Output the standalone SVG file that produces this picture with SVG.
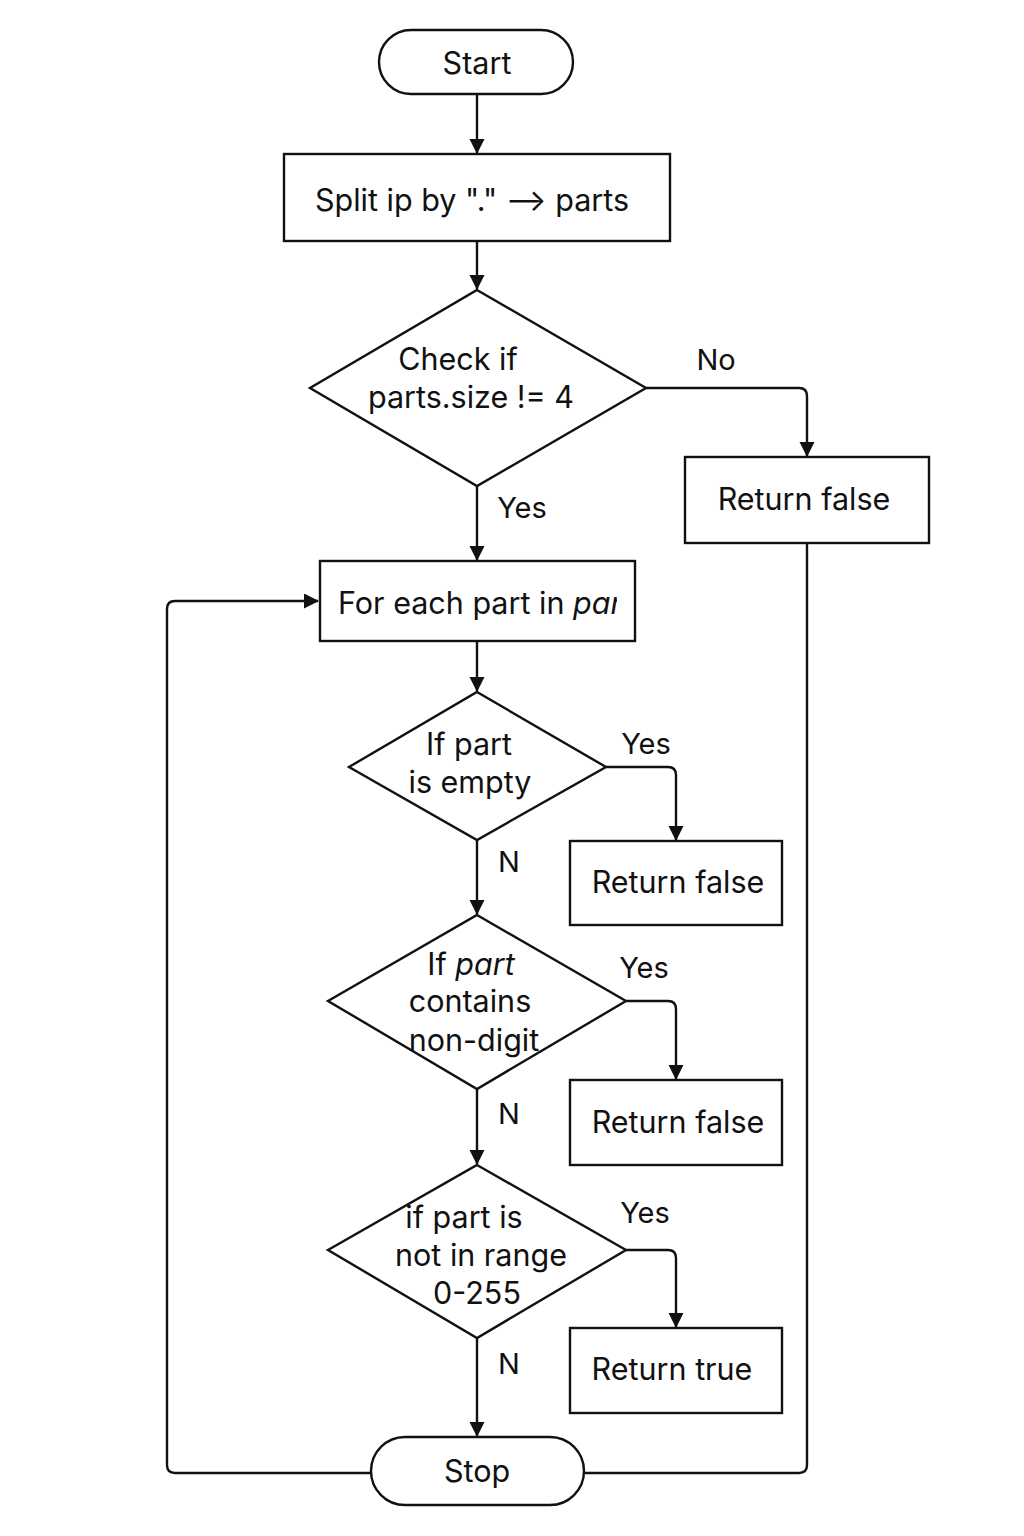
<svg xmlns="http://www.w3.org/2000/svg" width="1024" height="1536" viewBox="0 0 1024 1536">
<defs>
<marker id="ah" markerWidth="16" markerHeight="16" refX="14" refY="7.5" orient="auto" markerUnits="userSpaceOnUse">
<path d="M0,0 L15,7.5 L0,15 Z" fill="#111"/>
</marker>
<clipPath id="clipFor"><rect x="320" y="561" width="297" height="80"/></clipPath>
</defs>
<style>
.box{fill:#fff;stroke:#111;stroke-width:2.4}
.ln{fill:none;stroke:#111;stroke-width:2.4}
.ar{fill:none;stroke:#111;stroke-width:2.4;marker-end:url(#ah)}
text{font-family:Inter,"Liberation Sans",sans-serif;font-size:30.5px;fill:#111;text-anchor:middle}
.lbl{font-size:29px}
</style>
<rect width="1024" height="1536" fill="#fff"/>
<g id="connectors">
<path class="ar" d="M477,94 V153"/>
<path class="ar" d="M477,241 V289"/>
<path class="ar" d="M646,388 H799 Q807,388 807,396 V456"/>
<path class="ln" d="M807,543 V1465 Q807,1473 799,1473 H584"/>
<path class="ar" d="M477,486 V560"/>
<path class="ar" d="M371,1473 H175 Q167,1473 167,1465 V609 Q167,601 175,601 H318"/>
<path class="ar" d="M477,641 V691"/>
<path class="ar" d="M606,767 H668 Q676,767 676,775 V840"/>
<path class="ar" d="M477,840 V914"/>
<path class="ar" d="M626,1001 H668 Q676,1001 676,1009 V1079"/>
<path class="ar" d="M477,1089 V1164"/>
<path class="ar" d="M626,1250 H668 Q676,1250 676,1258 V1327"/>
<path class="ar" d="M477,1338 V1436"/>
<text class="lbl" x="716" y="370">No</text>
<text class="lbl" x="522" y="518">Yes</text>
<text class="lbl" x="646" y="754">Yes</text>
<text class="lbl" x="509" y="872">N</text>
<text class="lbl" x="644" y="978">Yes</text>
<text class="lbl" x="509" y="1124">N</text>
<text class="lbl" x="645" y="1223">Yes</text>
<text class="lbl" x="509" y="1374">N</text>
</g>
<g id="start">
<rect class="box" x="379" y="30" width="194" height="64" rx="32"/>
<text x="477" y="74">Start</text>
</g>
<g id="split">
<rect class="box" x="284" y="154" width="386" height="87"/>
<text x="472" y="211">Split ip by "." ⟶ parts</text>
</g>
<g id="check-size">
<polygon class="box" points="477,290 646,388 477,486 310,388"/>
<text x="458" y="370">Check if</text>
<text x="471" y="408">parts.size != 4</text>
</g>
<g id="return-false-1">
<rect class="box" x="685" y="457" width="244" height="86"/>
<text x="804" y="510">Return false</text>
</g>
<g id="for-each">
<rect class="box" x="320" y="561" width="315" height="80"/>
<text x="338" y="614" style="text-anchor:start" clip-path="url(#clipFor)">For each part in <tspan font-style="italic">par</tspan></text>
</g>
<g id="if-empty">
<polygon class="box" points="477,692 606,767 477,840 349,767"/>
<text x="469" y="755">If part</text>
<text x="470" y="793">is empty</text>
</g>
<g id="return-false-2">
<rect class="box" x="570" y="841" width="212" height="84"/>
<text x="678" y="893">Return false</text>
</g>
<g id="if-nondigit">
<polygon class="box" points="477,915 626,1001 477,1089 328,1001"/>
<text x="471" y="975">If <tspan font-style="italic">part</tspan></text>
<text x="470" y="1012">contains</text>
<text x="474" y="1051">non-digit</text>
</g>
<g id="return-false-3">
<rect class="box" x="570" y="1080" width="212" height="85"/>
<text x="678" y="1133">Return false</text>
</g>
<g id="if-range">
<polygon class="box" points="477,1165 626,1250 477,1338 328,1250"/>
<text x="464" y="1228">if part is</text>
<text x="481" y="1266">not in range</text>
<text x="477" y="1304">0-255</text>
</g>
<g id="return-true">
<rect class="box" x="570" y="1328" width="212" height="85"/>
<text x="672" y="1380">Return true</text>
</g>
<g id="stop">
<rect class="box" x="371" y="1437" width="213" height="68" rx="34"/>
<text x="477" y="1482">Stop</text>
</g>
</svg>
